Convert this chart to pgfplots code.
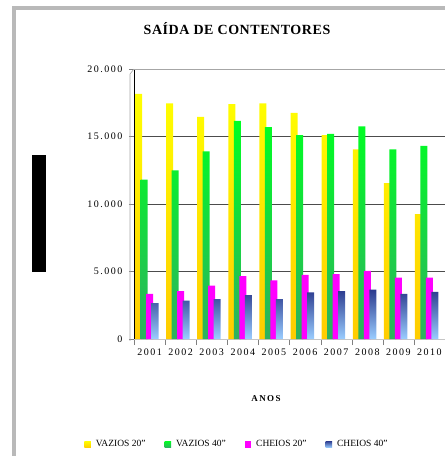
\documentclass[border=0pt]{standalone}
\usepackage{fontspec}
\setmainfont{Liberation Serif}
\newfontfamily\spaced[LetterSpace=15]{Liberation Serif}
\newfontfamily\titlefont[LetterSpace=4]{Liberation Serif}
\usepackage{pgfplots}
\pgfplotsset{compat=1.18}

\definecolor{amaTop}{HTML}{FFFF00}
\definecolor{amaBot}{HTML}{FFCC00}
\definecolor{verTop}{HTML}{00FF22}
\definecolor{verBot}{HTML}{2EB060}
\definecolor{rosa}{HTML}{FF00FF}
\definecolor{azuTop}{HTML}{2B3A8E}
\definecolor{azuBot}{HTML}{9ACDFF}

\pgfplotsset{leg/.style={legend image code/.code={\path[##1,draw=none] (0pt,-3.5pt) rectangle (6.5pt,3pt);}}}

\begin{document}
\begin{tikzpicture}[x=1pt,y=1pt]
\path[use as bounding box] (0,0) rectangle (445,456);
% moldura
\fill[gray!55] (12,0) rectangle (16,449);
\fill[gray!55] (12,446) rectangle (445,450);
\fill[black] (32,184) rectangle (46,301);
\node[font=\titlefont\bfseries\fontsize{14}{16}\selectfont] at (237,427) {SAÍDA DE CONTENTORES};
\node[font=\bfseries\fontsize{9}{11}\selectfont\spaced] at (266,57) {ANOS};

\begin{axis}[
    at={(134pt,117pt)}, anchor=south west,
    scale only axis, width=311pt, height=270pt,
    ybar, bar width=7pt,
    xmin=0.5, xmax=10.5, ymin=0, ymax=20000,
    axis lines*=left,
    scaled y ticks=false,
    xtick={1,...,10},
    xticklabels={2001,2002,2003,2004,2005,2006,2007,2008,2009,2010},
    major x tick style={draw=none},
    minor xtick={0.5,1.5,...,10.5},
    minor tick length=6pt, major tick length=5pt,
    tick align=outside,
    ytick={0,5000,10000,15000,20000},
    yticklabels={0,5.000,10.000,15.000,20.000},
    ymajorgrids, grid style={black!70, line width=0.7pt},
    tick label style={font=\spaced\fontsize{10}{12}\selectfont},
    yticklabel style={xshift=-3pt},
    xticklabel style={yshift=-1pt},
    legend columns=4,
    legend style={at={(0.331,-0.389)}, anchor=center, draw=none,
        font=\fontsize{9.5}{11}\selectfont},
    /tikz/every odd column/.append style={column sep=3pt},
    /tikz/every even column/.append style={column sep=17pt},
]
\fill[gray!45] (rel axis cs:0,0) rectangle ([yshift=-2pt]rel axis cs:1,0);
\addplot[leg, bar shift=-11pt, draw=none, top color=amaTop, bottom color=amaBot]
  coordinates {(1,18150) (2,17450) (3,16450) (4,17400) (5,17450) (6,16750) (7,15100) (8,14050) (9,11550) (10,9250)};
\addlegendentry{VAZIOS 20''}
\addplot[leg, bar shift=-5.5pt, draw=none, top color=verTop, bottom color=verBot]
  coordinates {(1,11800) (2,12500) (3,13900) (4,16150) (5,15700) (6,15100) (7,15200) (8,15750) (9,14050) (10,14300)};
\addlegendentry{VAZIOS 40''}
\addplot[leg, bar shift=0pt, draw=none, fill=rosa]
  coordinates {(1,3350) (2,3550) (3,3950) (4,4650) (5,4350) (6,4750) (7,4800) (8,5050) (9,4550) (10,4550)};
\addlegendentry{CHEIOS 20''}
\addplot[leg, bar shift=5.5pt, draw=none, top color=azuTop, bottom color=azuBot]
  coordinates {(1,2650) (2,2850) (3,2950) (4,3250) (5,2950) (6,3450) (7,3550) (8,3650) (9,3350) (10,3500)};
\addlegendentry{CHEIOS 40''}
\draw[gray!70, line width=0.8pt] (rel axis cs:0,1) -- (rel axis cs:1,1);
\end{axis}
% parede esquerda
\draw[gray!70, line width=0.6pt] (130,115) -- (130,382) -- (134,387);
\end{tikzpicture}
\end{document}
